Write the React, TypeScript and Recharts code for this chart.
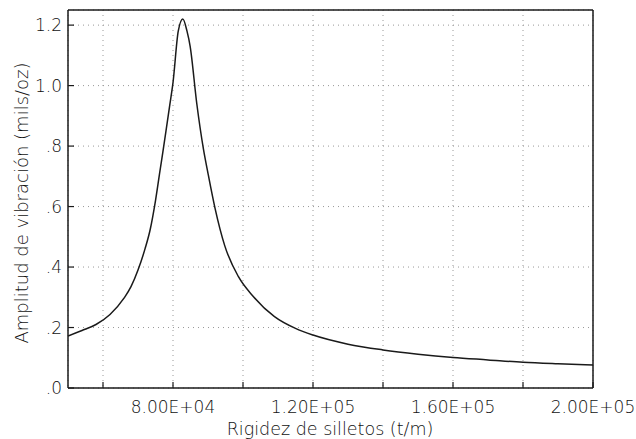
import React from "react";
import {
  LineChart, Line, XAxis, YAxis, CartesianGrid, ReferenceLine, Label,
} from "recharts";

// rigidez de silletos (t/m) vs amplitud (mils/oz)
const stiffness = [
  50000, 54000, 58000, 62000, 66000, 68000, 70000, 72000, 73500, 75000,
  76300, 77100, 78000, 79000, 80000, 81500, 82800, 84000, 84900, 86800,
  88700, 90000, 92000, 94800, 98700, 103000, 109000, 115000, 120000, 130000,
  140000, 150000, 160000, 170000, 180000, 190000, 200000,
];
const amplitude = [
  0.172, 0.19, 0.21, 0.243, 0.297, 0.335, 0.39, 0.46, 0.525, 0.62,
  0.72, 0.78, 0.85, 0.93, 1.01, 1.18, 1.22, 1.18, 1.13, 0.94,
  0.79, 0.71, 0.595, 0.47, 0.368, 0.302, 0.236, 0.197, 0.175, 0.145,
  0.126, 0.112, 0.101, 0.093, 0.085, 0.08, 0.076,
];

const xTicks = [60000, 80000, 100000, 120000, 140000, 160000, 180000, 200000];
const xLabelTicks = [80000, 120000, 160000, 200000];
const xLabelText = ["8.00E+04", "1.20E+05", "1.60E+05", "2.00E+05"];
const yTicks = [0, 0.2, 0.4, 0.6, 0.8, 1.0, 1.2];
const yTickText = [".0", ".2", ".4", ".6", ".8", "1.0", "1.2"];

const data = stiffness.map((k, i) => ({ k, amp: amplitude[i] }));

const FONT = "'DejaVu Sans', sans-serif";
const INK = "#1a1a1a";
const TXT = "#111";

function XTick(props: any) {
  const { x, y, payload } = props;
  const idx = xLabelTicks.indexOf(payload.value);
  return (
    <g>
      <line x1={x} y1={y} x2={x} y2={y - 6} stroke={INK} strokeWidth={1.2} />
      {idx >= 0 && (
        <text x={x} y={y + 25} textAnchor="middle" fontSize={17} fontWeight={300} fontFamily={FONT} fill={TXT}>
          {xLabelText[idx]}
        </text>
      )}
    </g>
  );
}

function YTick(props: any) {
  const { x, y, payload } = props;
  const idx = yTicks.indexOf(payload.value);
  return (
    <g>
      <line x1={x} y1={y} x2={x + 6} y2={y} stroke={INK} strokeWidth={1.2} />
      <text x={x - 6} y={y} dy="0.36em" textAnchor="end" fontSize={17} fontWeight={300} fontFamily={FONT} fill={TXT}>
        {yTickText[idx]}
      </text>
    </g>
  );
}

export default function App() {
  return (
    <div style={{ position: "absolute", left: 0, top: 0, background: "#fff" }}>
      <LineChart width={636} height={439} data={data} margin={{ top: 10, right: 43, bottom: 0, left: 0 }}>
        <CartesianGrid stroke="#999" strokeDasharray="1 4" />
        <XAxis
          dataKey="k"
          type="number"
          domain={[50000, 200000]}
          ticks={xTicks}
          allowDataOverflow
          height={51}
          tickSize={0}
          tickMargin={0}
          tickLine={false}
          axisLine={{ stroke: INK, strokeWidth: 1.5 }}
          tick={<XTick />}
          interval={0}
        >
          <Label
            content={() => (
              <text x={330} y={435} textAnchor="middle" fontSize={17.5} fontWeight={300} fontFamily={FONT} fill={TXT}>
                Rigidez de silletos (t/m)
              </text>
            )}
          />
        </XAxis>
        <YAxis
          type="number"
          domain={[0, 1.25]}
          ticks={yTicks}
          allowDataOverflow
          width={68}
          tickSize={0}
          tickMargin={0}
          tickLine={false}
          axisLine={{ stroke: INK, strokeWidth: 1.5 }}
          tick={<YTick />}
          interval={0}
        >
          <Label
            content={() => (
              <text
                x={28}
                y={203}
                transform="rotate(-90 28 203)"
                textAnchor="middle"
                fontSize={18}
                fontWeight={300}
                fontFamily={FONT}
                fill={TXT}
              >
                Amplitud de vibración (mils/oz)
              </text>
            )}
          />
        </YAxis>
        <ReferenceLine y={1.25} stroke={INK} strokeWidth={1.5} />
        <ReferenceLine x={200000} stroke={INK} strokeWidth={1.5} />
        <Line
          type="monotone"
          dataKey="amp"
          stroke={INK}
          strokeWidth={1.5}
          dot={false}
          isAnimationActive={false}
        />
      </LineChart>
    </div>
  );
}
